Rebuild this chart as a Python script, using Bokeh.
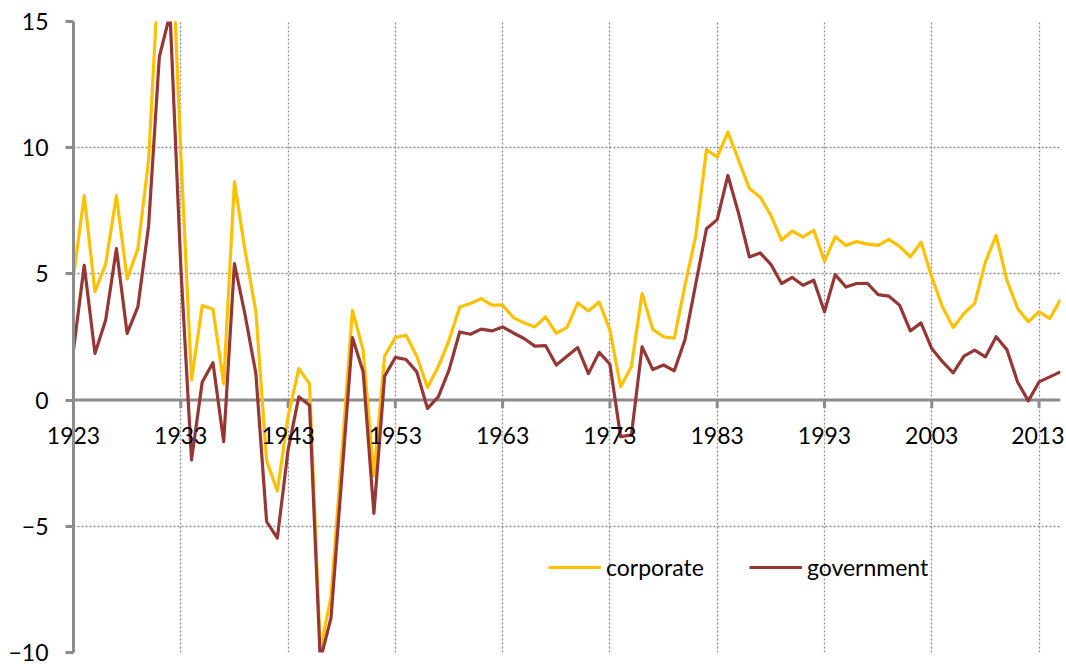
import math
from bokeh.plotting import figure
from bokeh.models import (FixedTicker, Grid, Span, Legend, LegendItem, ColumnDataSource, LinearAxis)
from bokeh.embed import file_html
from bokeh.resources import INLINE

years = list(range(1923, 2016))

corporate = [
    4.9, 8.1, 4.3, 5.4, 8.1, 4.8, 6.0, 9.5, 17.5, 20.0,          # 1923-1932
    9.8, 0.8, 3.75, 3.6, 0.65, 8.65, 5.9, 3.5, -2.4, -3.6,       # 1933-1942
    -0.65, 1.25, 0.65, -9.9, -7.8, -2.2, 3.56, 1.98, -3.0, 1.74, # 1943-1952
    2.48, 2.57, 1.74, 0.5, 1.32, 2.37, 3.69, 3.83, 4.02, 3.76,   # 1953-1962
    3.76, 3.27, 3.06, 2.9, 3.3, 2.64, 2.88, 3.85, 3.53, 3.89,    # 1963-1972
    2.77, 0.53, 1.32, 4.22, 2.8, 2.51, 2.45, 4.55, 6.5, 9.92,    # 1973-1982
    9.63, 10.62, 9.5, 8.38, 8.05, 7.32, 6.33, 6.7, 6.46, 6.73,   # 1983-1992
    5.5, 6.47, 6.13, 6.28, 6.18, 6.13, 6.37, 6.09, 5.67, 6.26,   # 1993-2002
    4.88, 3.69, 2.88, 3.43, 3.83, 5.47, 6.53, 4.75, 3.63, 3.1,   # 2003-2012
    3.5, 3.23, 3.98,                                             # 2013-2015
]

government = [
    1.98, 5.34, 1.85, 3.17, 6.0, 2.64, 3.69, 6.9, 13.6, 15.3,    # 1923-1932
    5.3, -2.37, 0.72, 1.48, -1.65, 5.41, 3.36, 1.05, -4.81, -5.47,  # 1933-1942
    -1.98, 0.13, -0.2, -10.3, -8.64, -3.1, 2.48, 1.12, -4.49, 0.95,  # 1943-1952
    1.69, 1.61, 1.12, -0.33, 0.13, 1.19, 2.7, 2.61, 2.81, 2.74,  # 1953-1962
    2.9, 2.66, 2.44, 2.14, 2.16, 1.39, 1.74, 2.08, 1.05, 1.89,   # 1963-1972
    1.42, -1.45, -1.39, 2.11, 1.21, 1.39, 1.16, 2.4, 4.6, 6.79,  # 1973-1982
    7.15, 8.9, 7.39, 5.67, 5.83, 5.38, 4.62, 4.86, 4.55, 4.75,   # 1983-1992
    3.5, 4.97, 4.48, 4.62, 4.63, 4.18, 4.12, 3.76, 2.74, 3.06,   # 1993-2002
    2.04, 1.52, 1.08, 1.74, 1.98, 1.71, 2.51, 2.0, 0.72, -0.03,  # 2003-2012
    0.72, 0.92, 1.12,                                            # 2013-2015
]

tick_years = list(range(1923, 2014, 10))
tick_labels = [str(y) for y in tick_years]
y_ticks = [-10, -5, 0, 5, 10, 15]

FONT = "Lato"
GREY = "#8c8c8c"

p = figure(width=1064, height=664, x_range=(1923, 2015), y_range=(-10, 15),
           output_backend="svg", toolbar_location=None,
           x_axis_location=None, min_border_left=73, min_border_right=4,
           min_border_top=21, min_border_bottom=12)
p.outline_line_color = None
p.background_fill_color = "white"

# y axis
p.yaxis.ticker = FixedTicker(ticks=y_ticks)
p.yaxis.axis_line_color = GREY
p.yaxis.axis_line_width = 3
p.yaxis.major_tick_line_color = GREY
p.yaxis.major_tick_line_width = 3
p.yaxis.major_tick_out = 8
p.yaxis.major_tick_in = 0
p.yaxis.minor_tick_line_color = None
p.yaxis.major_label_text_font = FONT
p.yaxis.major_label_text_font_size = "23px"
p.yaxis.major_label_text_color = "black"
p.yaxis.major_label_standoff = 17

# grids
p.xgrid.grid_line_color = None
p.ygrid.ticker = FixedTicker(ticks=[-10, -5, 5, 10, 15])
p.ygrid.grid_line_color = GREY
p.ygrid.grid_line_dash = "2 2"
p.ygrid.grid_line_width = 1.3
xgrid = Grid(dimension=0, ticker=FixedTicker(ticks=tick_years[1:]),
             grid_line_color=GREY, grid_line_dash="2 2", grid_line_width=1.3)
p.add_layout(xgrid)

# zero axis line and its ticks
p.add_layout(Span(location=0, dimension="width", line_color=GREY, line_width=3, level="underlay"))
p.ray(x=tick_years, y=[0] * len(tick_years), length=8, length_units="screen",
      angle=-math.pi / 2, line_color=GREY, line_width=3)

# x tick labels: a real axis whose labels are pulled up to sit under the zero line
xaxis = LinearAxis(ticker=FixedTicker(ticks=tick_years),
                   major_label_overrides={y: l for y, l in zip(tick_years, tick_labels)},
                   axis_line_color=None, major_tick_line_color=None, minor_tick_line_color=None,
                   major_tick_out=0, major_tick_in=0,
                   major_label_standoff=-226,
                   major_label_text_font=FONT, major_label_text_font_size="23px",
                   major_label_text_color="black")
p.add_layout(xaxis, "below")

src = ColumnDataSource(dict(year=years, corporate=corporate, government=government))
r1 = p.line("year", "corporate", source=src, line_color="#FFC000", line_width=3.2, line_join="round")
r2 = p.line("year", "government", source=src, line_color="#953735", line_width=3.2, line_join="round")

legend = Legend(items=[LegendItem(label="corporate", renderers=[r1]),
                       LegendItem(label="government", renderers=[r2])],
                location=(475, 71), orientation="horizontal",
                glyph_width=53, glyph_height=20, label_standoff=5, spacing=45,
                padding=0, margin=0, border_line_color=None, background_fill_alpha=0,
                label_text_font=FONT, label_text_font_size="23px", label_text_color="black")
p.add_layout(legend)

open("out.html", "w").write(file_html(p, INLINE))
